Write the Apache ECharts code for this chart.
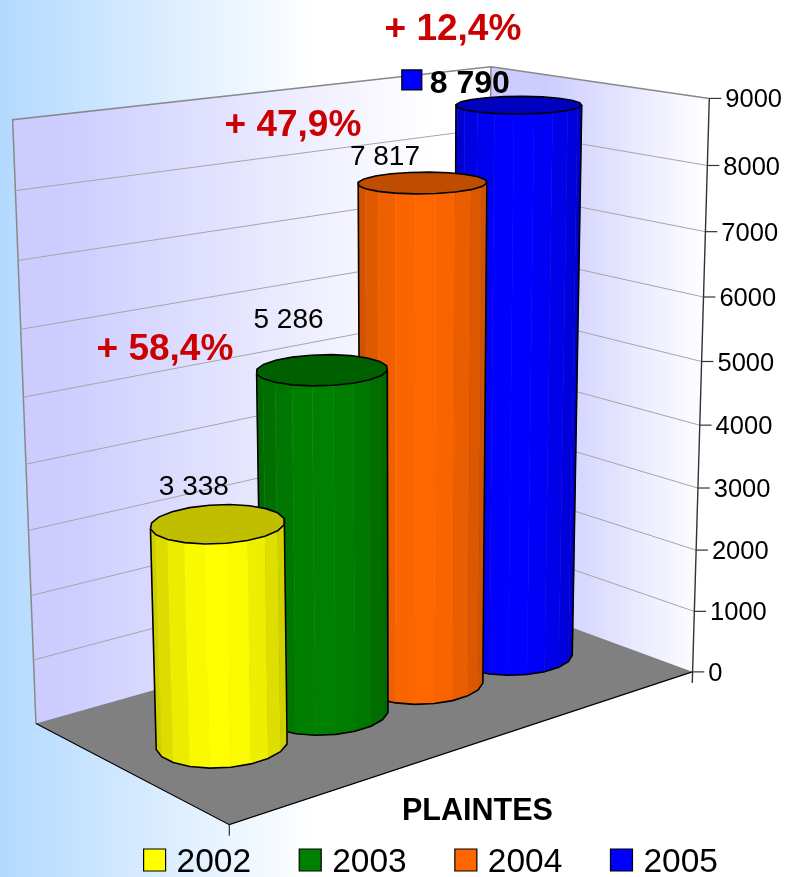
<!DOCTYPE html>
<html>
<head>
<meta charset="utf-8">
<style>html,body{margin:0;padding:0;background:#fff}#chart{width:787px;height:877px}</style>
<script src="https://cdn.jsdelivr.net/npm/echarts@6/dist/echarts.min.js"></script>
</head>
<body>
<div id="chart"></div>
<script>
// Complaints per year, drawn as cylinders standing in a projected 3D box.
const years = ['2002', '2003', '2004', '2005'];
const complaints = [3338, 5286, 7817, 8790];
const valueLabels = ['3 338', '5 286', '7 817', '8 790'];
const yTicks = [0, 1000, 2000, 3000, 4000, 5000, 6000, 7000, 8000, 9000];
const growthLabels = ['+ 58,4%', '+ 47,9%', '+ 12,4%'];
const barColors = ['#FFFF00', '#008000', '#FF6600', '#0000FF'];

const FONT = '"Liberation Sans", Arial, sans-serif';

// Box corners: [across, depth, height] -> screen position, used to calibrate the camera.
const boxCorners = [
  [0, 0, 0, 230, 825], [1, 0, 0, 691, 672], [0, 1, 0, 35, 723], [1, 1, 0, 488, 596],
  [0, 1, 1, 13, 120], [1, 1, 1, 490, 67], [1, 0, 1, 710, 98]
];

function solveCamera(pts) {
  const S = 1000, A = [], b = [];
  pts.forEach(([u, w, v, x, y]) => {
    const X = x / S, Y = y / S;
    A.push([u, w, v, 1, 0, 0, 0, 0, -X * u, -X * w, -X * v]); b.push(X);
    A.push([0, 0, 0, 0, u, w, v, 1, -Y * u, -Y * w, -Y * v]); b.push(Y);
  });
  const n = 11, M = [];
  for (let i = 0; i < n; i++) {
    M[i] = new Array(n + 1).fill(0);
    for (let j = 0; j < n; j++) A.forEach(r => { M[i][j] += r[i] * r[j]; });
    A.forEach((r, k) => { M[i][n] += r[i] * b[k]; });
    M[i][i] += 1e-9;
  }
  for (let c = 0; c < n; c++) {
    let p = c;
    for (let r = c + 1; r < n; r++) if (Math.abs(M[r][c]) > Math.abs(M[p][c])) p = r;
    [M[c], M[p]] = [M[p], M[c]];
    for (let r = 0; r < n; r++) {
      if (r === c) continue;
      const f = M[r][c] / M[c][c];
      for (let k = c; k <= n; k++) M[r][k] -= f * M[c][k];
    }
  }
  const s = M.map((r, i) => r[n] / r[i]);
  return (u, w, v) => {
    const d = s[8] * u + s[9] * w + s[10] * v + 1;
    return [S * (s[0] * u + s[1] * w + s[2] * v + s[3]) / d,
            S * (s[4] * u + s[5] * w + s[6] * v + s[7]) / d];
  };
}
const project = solveCamera(boxCorners);

// Category slots occupy this span of the front edge.
const U0 = 0.077, U1 = 0.928;
const DEPTH = 0.5, RU = 0.109, RW = 0.19, FACETS = 20;
const LABEL_OFFSET = [[-24, -36], [-33.5, -50], [-37.5, -25], [-49, -21]];

function toModel(api, params, i, value) {
  const p = api.coord([i, value]), c = params.coordSys;
  return [U0 + (U1 - U0) * (p[0] - c.x) / c.width, 1 - (p[1] - c.y) / c.height];
}
function shade(hex, f) {
  const n = parseInt(hex.slice(1), 16);
  const ch = s => Math.round(((n >> s) & 255) * f);
  return 'rgb(' + ch(16) + ',' + ch(8) + ',' + ch(0) + ')';
}
function poly(points, style, z2) {
  return { type: 'polygon', shape: { points }, style, z2: z2 || 0, silent: true };
}
function line(points, stroke, lineWidth, z2) {
  return { type: 'polyline', shape: { points }, style: { stroke, lineWidth, fill: 'none' }, z2: z2 || 0, silent: true };
}

// Walls and floor, one polygon each, with a gradient across the screen.
function renderBox(params, api) {
  const c = (u, w, v) => project(u, w, v);
  const wash = (x0, x1) => ({
    type: 'linear', x: x0, y: 0, x2: x1, y2: 0, global: true,
    colorStops: [{ offset: 0, color: '#CCCCFF' }, { offset: 1, color: '#FFFFFF' }]
  });
  return {
    type: 'group',
    children: [
      poly([c(0,1,0), c(1,1,0), c(1,1,1), c(0,1,1)], { fill: wash(60, 430) }),
      poly([c(1,1,0), c(1,0,0), c(1,0,1), c(1,1,1)], { fill: wash(545, 705) }),
      poly([c(0,0,0), c(1,0,0), c(1,1,0), c(0,1,0)], { fill: '#808080' }),
      line([c(0,1,0), c(0,1,1), c(1,1,1), c(1,0,1)], '#888888', 1.5, 1),
      line([c(1,1,0), c(1,1,1)], '#888888', 1.5, 1),
      line([c(0,1,0), c(0,0,0), c(1,0,0)], '#000000', 1.2, 2),
      line([c(0,0,0), [c(0,0,0)[0], c(0,0,0)[1] + 11]], '#333333', 1.2, 2)
    ]
  };
}

// One gridline on both walls, plus tick and label on the right-hand axis.
function renderTick(params, api) {
  const v = toModel(api, params, 0, api.value(1))[1];
  const a = project(0, 1, v), b = project(1, 1, v), d = project(1, 0, v);
  const children = [];
  if (api.value(1) > 0 && api.value(1) < 9000) {
    children.push(line([a, b, d], '#A6A6A6', 1));
  }
  children.push(line([d, [d[0] + 12, d[1]]], '#333333', 1.2, 2));
  children.push({
    type: 'text', silent: true,
    style: { x: d[0] + 16, y: d[1] + 2, text: String(api.value(1)), fill: '#000', font: '25.5px ' + FONT, textVerticalAlign: 'middle' }
  });
  return { type: 'group', children };
}

function renderAxisLine() {
  const bottom = project(1, 0, 0), top = project(1, 0, 1);
  return line([top, [bottom[0], bottom[1] + 11]], '#333333', 1.4, 3);
}

// A cylinder: side facets that face the viewer, a darker lid, black outline, value label.
function renderCylinder(params, api) {
  const i = api.value(0), val = api.value(1);
  const color = api.visual('color');
  const [uc, vTop] = toModel(api, params, i, val);
  const ring = [];
  for (let k = 0; k <= FACETS; k++) {
    const t = (k + 0.5) / FACETS * Math.PI * 2;
    const u = uc + RU * Math.cos(t), w = DEPTH + RW * Math.sin(t);
    ring.push([project(u, w, 0), project(u, w, vTop)]);
  }
  const cTop = project(uc, DEPTH, vTop);
  const xs = ring.map(r => r[0][0]);
  const cx = (Math.min.apply(null, xs) + Math.max.apply(null, xs)) / 2;
  const half = (Math.max.apply(null, xs) - Math.min.apply(null, xs)) / 2;
  const children = [], lower = [];
  for (let k = 0; k < FACETS; k++) {
    const a = ring[k], b = ring[k + 1];
    const area = (b[0][0] - a[0][0]) * (a[1][1] - a[0][1]) - (b[0][1] - a[0][1]) * (a[1][0] - a[0][0]);
    if (area >= 0) continue;
    const t = ((a[0][0] + b[0][0]) / 2 - cx) / half;
    const f = 1 - 0.2 * t * t;
    children.push(poly([a[0], b[0], b[1], a[1]], { fill: shade(color, f), stroke: shade(color, Math.min(1, f * 1.02)), lineWidth: 0.5 }));
    lower.push([a, b]);
  }
  const topPts = ring.slice(0, FACETS).map(r => r[1]);
  children.push(poly(topPts, { fill: shade(color, 0.75), stroke: '#000', lineWidth: 1.6 }, 3));
  // Outline along the base and up the two silhouette edges.
  const edge = [];
  lower.sort((p, q) => (p[0][0][0] + p[1][0][0]) - (q[0][0][0] + q[1][0][0]));
  edge.push(lower[0][0][0][0] < lower[0][1][0][0] ? lower[0][0][1] : lower[0][1][1]);
  lower.forEach(s => {
    const [l, r] = s[0][0][0] < s[1][0][0] ? [s[0], s[1]] : [s[1], s[0]];
    edge.push(l[0]); edge.push(r[0]);
  });
  const last = lower[lower.length - 1];
  edge.push(last[0][0][0] > last[1][0][0] ? last[0][1] : last[1][1]);
  children.push(line(edge, '#000', 1.6, 3));
  const off = LABEL_OFFSET[i];
  const bold = i === 3;
  const lx = cTop[0] + off[0], ly = cTop[1] + off[1];
  children.push({
    type: 'text', silent: true, z2: 5,
    style: { x: lx, y: ly, text: valueLabels[i], fill: '#000', font: (bold ? 'bold 32px ' : '28px ') + FONT, textAlign: 'center', textVerticalAlign: 'middle' }
  });
  if (bold) {
    children.push({
      type: 'rect', silent: true, z2: 5,
      shape: { x: lx - 68, y: ly - 14, width: 20, height: 20 },
      style: { fill: color, stroke: '#000', lineWidth: 1.2 }
    });
  }
  return { type: 'group', children };
}

const chart = echarts.init(document.getElementById('chart'), null, { renderer: 'canvas' });

const redText = (text, cx, cy) => ({
  type: 'text', left: cx - 68.5, top: cy - 16, z: 20,
  style: { text, fill: '#CC0000', font: 'bold 37px ' + FONT }
});

chart.setOption({
  animation: false,
  backgroundColor: {
    type: 'linear', x: 0, y: 0, x2: 787, y2: 0, global: true,
    colorStops: [{ offset: 0, color: '#B3D9FF' }, { offset: 0.4, color: '#FFFFFF' }, { offset: 1, color: '#FFFFFF' }]
  },
  title: {
    text: 'PLAINTES', left: 402, top: 796, padding: 0,
    textStyle: { color: '#000', fontFamily: FONT, fontWeight: 'bold', fontSize: 30.5 }
  },
  legend: {
    left: 143, top: 846, padding: 0, itemWidth: 22, itemHeight: 22, itemGap: 47.5, icon: 'rect',
    data: years, selectedMode: false,
    itemStyle: { borderColor: '#000', borderWidth: 1.2 },
    formatter: '{y|{name}}',
    textStyle: {
      color: '#000', fontFamily: FONT, fontSize: 33.5,
      rich: { y: { color: '#000', fontFamily: FONT, fontSize: 33.5, padding: [6, 0, 0, 6] } }
    }
  },
  grid: { left: 0, right: 0, top: 0, bottom: 0 },
  xAxis: { type: 'category', data: years, show: false },
  yAxis: { type: 'value', min: 0, max: 9000, interval: 1000, show: false },
  graphic: [
    redText(growthLabels[0], 165, 347),
    redText(growthLabels[1], 293, 123),
    redText(growthLabels[2], 453, 27)
  ],
  series: [
    { type: 'custom', name: 'box', z: 1, silent: true, renderItem: renderBox, data: [[0, 0]], encode: { x: 0, y: 1 } },
    { type: 'custom', name: 'ticks', z: 2, silent: true, renderItem: renderTick, data: yTicks.map(t => [0, t]), encode: { x: 0, y: 1 } },
    { type: 'custom', name: 'axis', z: 3, silent: true, renderItem: renderAxisLine, data: [[0, 0]], encode: { x: 0, y: 1 } }
  ].concat(years.map((y, i) => ({
    type: 'custom', name: y, z: 10 - i, silent: true,
    itemStyle: { color: barColors[i] },
    renderItem: renderCylinder,
    data: [[i, complaints[i]]],
    encode: { x: 0, y: 1 }
  })))
});
</script>
</body>
</html>
